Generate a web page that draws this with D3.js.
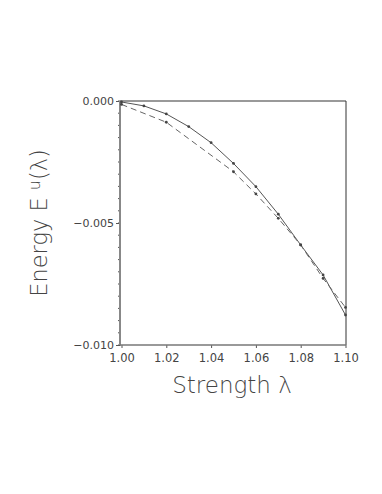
<!DOCTYPE html>
<html>
<head>
<meta charset="utf-8">
<script src="https://cdn.jsdelivr.net/npm/d3@7"></script>
<style>
  body { margin: 0; background: #fff; }
  svg { display: block; }
  text { font-family: "DejaVu Sans", sans-serif; fill: #444; }
</style>
</head>
<body>
<svg id="chart" width="382" height="494"></svg>
<script>
// ________ data ________
const solidX = [1.00, 1.01, 1.02, 1.03, 1.04, 1.05, 1.06, 1.07, 1.08, 1.09, 1.10];
const solidY = [-0.00004, -0.0002, -0.00053, -0.00105, -0.00171, -0.00256, -0.00351, -0.00464, -0.0059, -0.00713, -0.00877];
const dashX = [1.00, 1.02, 1.05, 1.06, 1.07, 1.08, 1.09, 1.10];
const dashY = [-0.00014, -0.00087, -0.0029, -0.00381, -0.00481, -0.0059, -0.00727, -0.00846];
const xTicks = [1.00, 1.02, 1.04, 1.06, 1.08, 1.10];
const yTicks = [0, -0.005, -0.010];

// ________ layout ________
const svg = d3.select('#chart');
const mLeft = 120, mRight = 346, mTop = 101, mBottom = 345;

const x = d3.scaleLinear().domain([1.0, 1.1]).range([mLeft + 1.5, mRight - 0.5]);
const y = d3.scaleLinear().domain([-0.010, 0]).range([mBottom, mTop]);

const fmt = d => (d < 0 ? '\u2212' : '') + Math.abs(d).toFixed(3);

// y axis with minor ticks
const minorY = d3.range(0, 21).map(i => -i * 0.0005);
svg.append('g')
  .selectAll('line.minor')
  .data(minorY)
  .enter()
  .append('line')
  .attr('x1', mLeft - 2).attr('x2', mLeft + 1)
  .attr('y1', d => y(d)).attr('y2', d => y(d))
  .attr('stroke', '#555').attr('stroke-width', 1);

const yAxis = svg.append('g')
  .attr('transform', `translate(${mLeft},0)`)
  .call(d3.axisLeft(y).tickValues(yTicks).tickFormat(fmt).tickSize(4).tickPadding(2));
yAxis.select('.domain').remove();
yAxis.selectAll('line').attr('stroke', '#555');
yAxis.selectAll('text').style('font-size', '11px').attr('fill', '#444');

const xAxis = svg.append('g')
  .attr('transform', `translate(0,${mBottom})`)
  .call(d3.axisBottom(x).tickValues(xTicks).tickFormat(d3.format('.2f')).tickSize(3).tickPadding(6));
xAxis.select('.domain').remove();
xAxis.selectAll('line').attr('stroke', '#555');
xAxis.selectAll('text').style('font-size', '11.5px').attr('fill', '#444');

// frame
svg.append('line').attr('x1', mLeft).attr('x2', mRight).attr('y1', mTop).attr('y2', mTop)
  .attr('stroke', '#999').attr('stroke-width', 2);
svg.append('line').attr('x1', mLeft).attr('x2', mLeft).attr('y1', mTop).attr('y2', mBottom)
  .attr('stroke', '#888').attr('stroke-width', 2);
svg.append('line').attr('x1', mRight).attr('x2', mRight).attr('y1', mTop).attr('y2', mBottom)
  .attr('stroke', '#333').attr('stroke-width', 1);
svg.append('line').attr('x1', mLeft).attr('x2', mRight).attr('y1', mBottom).attr('y2', mBottom)
  .attr('stroke', '#777').attr('stroke-width', 1.5);

// series
const line = d3.line().x(d => x(d[0])).y(d => y(d[1]));
const solid = d3.zip(solidX, solidY);
const dashed = d3.zip(dashX, dashY);

svg.append('path').datum(solid).attr('d', line)
  .attr('fill', 'none').attr('stroke', '#555').attr('stroke-width', 1);
svg.append('path').datum(dashed).attr('d', line)
  .attr('fill', 'none').attr('stroke', '#666').attr('stroke-width', 1)
  .attr('stroke-dasharray', '6,4');

[solid, dashed].forEach(s => {
  svg.append('g').selectAll('circle').data(s).enter().append('circle')
    .attr('cx', d => x(d[0])).attr('cy', d => y(d[1])).attr('r', 1.4)
    .attr('fill', '#444');
});

// titles
svg.append('text')
  .attr('x', 232).attr('y', 393)
  .attr('text-anchor', 'middle')
  .style('font-size', '23px').style('font-weight', 200).attr('fill', '#444')
  .text('Strength \u03bb');

const yt = svg.append('text')
  .attr('transform', 'translate(47,223) rotate(-90)')
  .attr('text-anchor', 'middle')
  .style('font-size', '22.5px').style('font-weight', 200).attr('fill', '#444');
yt.append('tspan').text('Energy E ');
yt.append('tspan').style('font-size', '16px').attr('dy', -7).text('u');
yt.append('tspan').attr('dy', 7).text('(\u03bb)');
</script>
</body>
</html>
